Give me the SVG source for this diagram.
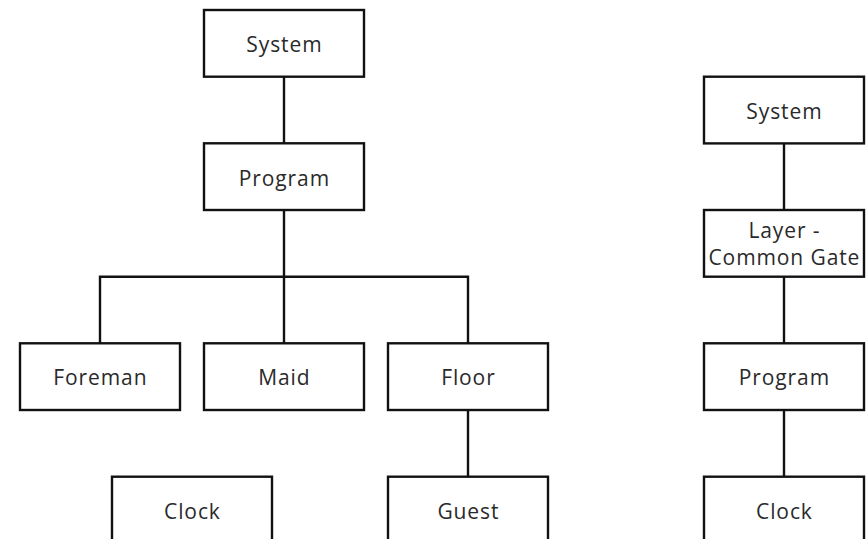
<svg xmlns="http://www.w3.org/2000/svg" width="868" height="539" viewBox="0 0 868 539">
<style>
.box{fill:#fff;stroke:#111;stroke-width:2.4}
.lbl{font-family:"Open Sans","Noto Sans","Liberation Sans",sans-serif;font-size:21px;fill:#2a2a2a;text-anchor:middle;letter-spacing:0.9px}
.conn{fill:none;stroke:#111;stroke-width:2.4}
</style>
<rect width="868" height="539" fill="#fff"/>
<g id="connectors">
<path class="conn" d="M284 76.7V143.3"/>
<path class="conn" d="M284 210V276.7"/>
<path class="conn" d="M100 343.3V276.7H468V343.3"/>
<path class="conn" d="M284 276.7V343.3"/>
<path class="conn" d="M468 410V476.7"/>
<path class="conn" d="M784 143.3V210"/>
<path class="conn" d="M784 276.7V343.3"/>
<path class="conn" d="M784 410V476.7"/>
</g>
<g id="system-left"><rect class="box" x="204" y="10" width="160" height="66.7"/><text class="lbl" x="284.4" y="52.3">System</text></g>
<g id="program-left"><rect class="box" x="204" y="143.3" width="160" height="66.7"/><text class="lbl" x="284.4" y="185.6">Program</text></g>
<g id="foreman"><rect class="box" x="20" y="343.3" width="160" height="66.7"/><text class="lbl" x="100.4" y="385.4">Foreman</text></g>
<g id="maid"><rect class="box" x="204" y="343.3" width="160" height="66.7"/><text class="lbl" x="284.4" y="385.4">Maid</text></g>
<g id="floor"><rect class="box" x="388" y="343.3" width="160" height="66.7"/><text class="lbl" x="468.4" y="385.4">Floor</text></g>
<g id="clock-left"><rect class="box" x="112" y="476.7" width="160" height="66.7"/><text class="lbl" x="192.4" y="518.8">Clock</text></g>
<g id="guest"><rect class="box" x="388" y="476.7" width="160" height="66.7"/><text class="lbl" x="468.4" y="518.8">Guest</text></g>
<g id="system-right"><rect class="box" x="704" y="76.7" width="160" height="66.7"/><text class="lbl" x="784.4" y="118.8">System</text></g>
<g id="layer-common-gate"><rect class="box" x="704" y="210" width="160" height="66.7"/><text class="lbl" x="784.4" y="238">Layer -</text><text class="lbl" x="784.4" y="265">Common Gate</text></g>
<g id="program-right"><rect class="box" x="704" y="343.3" width="160" height="66.7"/><text class="lbl" x="784.4" y="385.4">Program</text></g>
<g id="clock-right"><rect class="box" x="704" y="476.7" width="160" height="66.7"/><text class="lbl" x="784.4" y="518.8">Clock</text></g>
</svg>
